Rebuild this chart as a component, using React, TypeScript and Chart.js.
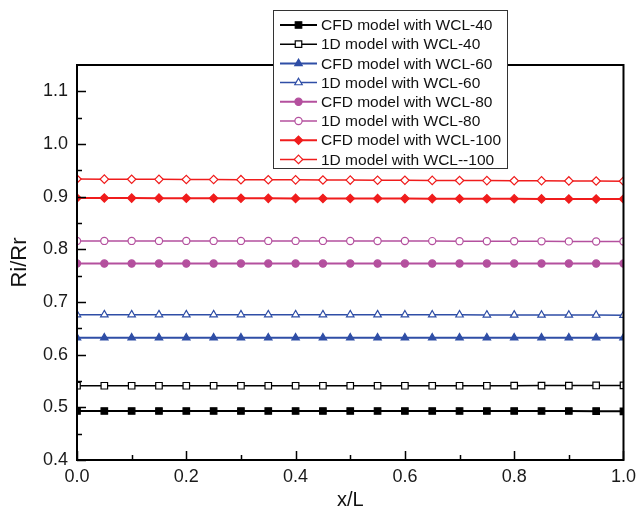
import React, { useEffect, useRef } from "react";
import { Chart, registerables } from "chart.js";
import { drawPoint } from "chart.js/helpers";

Chart.register(...registerables);

const xValues = [0, 0.05, 0.1, 0.15, 0.2, 0.25, 0.3, 0.35, 0.4, 0.45, 0.5, 0.55, 0.6, 0.65, 0.7, 0.75, 0.8, 0.85, 0.9, 0.95, 1.0];

const cfd40 = [0.493, 0.493, 0.493, 0.493, 0.493, 0.493, 0.493, 0.493, 0.493, 0.493, 0.493, 0.493, 0.493, 0.493, 0.493, 0.493, 0.493, 0.493, 0.493, 0.4928, 0.4925];
const oneD40 = [0.541, 0.541, 0.541, 0.541, 0.541, 0.541, 0.541, 0.541, 0.541, 0.541, 0.541, 0.541, 0.541, 0.541, 0.541, 0.541, 0.5412, 0.5413, 0.5414, 0.5415, 0.5416];
const cfd60 = [0.632, 0.632, 0.632, 0.632, 0.632, 0.632, 0.632, 0.632, 0.632, 0.632, 0.632, 0.632, 0.632, 0.632, 0.632, 0.632, 0.632, 0.632, 0.632, 0.632, 0.632];
const oneD60 = [0.676, 0.676, 0.676, 0.676, 0.676, 0.676, 0.676, 0.676, 0.676, 0.676, 0.676, 0.6759, 0.6758, 0.6757, 0.6756, 0.6755, 0.6754, 0.6753, 0.6752, 0.6751, 0.675];
const cfd80 = [0.773, 0.773, 0.773, 0.773, 0.773, 0.773, 0.773, 0.773, 0.773, 0.773, 0.773, 0.773, 0.773, 0.773, 0.773, 0.773, 0.773, 0.773, 0.773, 0.773, 0.773];
const oneD80 = [0.816, 0.816, 0.816, 0.816, 0.816, 0.816, 0.816, 0.816, 0.816, 0.816, 0.8159, 0.8158, 0.8157, 0.8156, 0.8155, 0.8154, 0.8153, 0.8152, 0.8151, 0.815, 0.815];
const cfd100 = [0.8975, 0.8974, 0.8973, 0.8972, 0.8971, 0.897, 0.8969, 0.8968, 0.8967, 0.8966, 0.8965, 0.8964, 0.8963, 0.8962, 0.8961, 0.896, 0.8959, 0.8958, 0.8957, 0.8956, 0.8955];
const oneD100 = [0.9335, 0.9333, 0.9331, 0.9329, 0.9327, 0.9325, 0.9323, 0.9321, 0.9319, 0.9317, 0.9315, 0.9313, 0.9311, 0.9309, 0.9307, 0.9305, 0.9303, 0.9301, 0.9299, 0.9297, 0.9295];

const seriesLabels = [
  "CFD model with WCL-40",
  "1D model with WCL-40",
  "CFD model with WCL-60",
  "1D model with WCL-60",
  "CFD model with WCL-80",
  "1D model with WCL-80",
  "CFD model with WCL-100",
  "1D model with WCL--100",
];

const yTickValues = [0.4, 0.5, 0.6, 0.7, 0.8, 0.9, 1.0, 1.1];
const yMinorValues = [0.45, 0.55, 0.65, 0.75, 0.85, 0.95, 1.05];
const xTickValues = [0, 0.2, 0.4, 0.6, 0.8, 1.0];
const xMinorValues = [0.1, 0.3, 0.5, 0.7, 0.9];

const FONT = "'Liberation Sans', Arial, Helvetica, sans-serif";
const BLACK = "#000000";
const BLUE = "#2f4ea6";
const MAGENTA = "#b4509e";
const RED = "#f01c1c";

const styleDefs = [
  { color: BLACK, style: "rect", radius: 4.6, hollow: false, width: 2 },
  { color: BLACK, style: "rect", radius: 4.6, hollow: true, width: 1.5 },
  { color: BLUE, style: "triangle", radius: 4.3, hollow: false, width: 2 },
  { color: BLUE, style: "triangle", radius: 4.3, hollow: true, width: 1.5 },
  { color: MAGENTA, style: "circle", radius: 3.6, hollow: false, width: 2 },
  { color: MAGENTA, style: "circle", radius: 3.6, hollow: true, width: 1.5 },
  { color: RED, style: "rectRot", radius: 4.2, hollow: false, width: 2 },
  { color: RED, style: "rectRot", radius: 4.2, hollow: true, width: 1.5 },
];

const seriesValues = [cfd40, oneD40, cfd60, oneD60, cfd80, oneD80, cfd100, oneD100];

const framePlugin = {
  id: "framePlugin",
  afterDatasetsDraw(chart: any) {
    const { ctx, chartArea } = chart;
    const xs = chart.scales.x;
    const ys = chart.scales.y;
    ctx.save();
    ctx.strokeStyle = BLACK;
    ctx.lineWidth = 1.5;
    ctx.beginPath();
    yTickValues.forEach((v) => {
      const p = Math.round(ys.getPixelForValue(v)) + 0.5;
      ctx.moveTo(chartArea.left, p);
      ctx.lineTo(chartArea.left + 9, p);
    });
    yMinorValues.forEach((v) => {
      const p = Math.round(ys.getPixelForValue(v)) + 0.5;
      ctx.moveTo(chartArea.left, p);
      ctx.lineTo(chartArea.left + 5, p);
    });
    xTickValues.forEach((v) => {
      const p = Math.round(xs.getPixelForValue(v)) + 0.5;
      ctx.moveTo(p, chartArea.bottom);
      ctx.lineTo(p, chartArea.bottom - 9);
    });
    xMinorValues.forEach((v) => {
      const p = Math.round(xs.getPixelForValue(v)) + 0.5;
      ctx.moveTo(p, chartArea.bottom);
      ctx.lineTo(p, chartArea.bottom - 5);
    });
    ctx.stroke();
    ctx.lineWidth = 2;
    ctx.strokeRect(chartArea.left, chartArea.top, chartArea.right - chartArea.left, chartArea.bottom - chartArea.top);
    ctx.restore();
  },
  afterDraw(chart: any) {
    const { ctx } = chart;
    const boxL = 273, boxT = 10, boxR = 507, boxB = 168;
    ctx.save();
    ctx.fillStyle = "#ffffff";
    ctx.fillRect(boxL, boxT, boxR - boxL, boxB - boxT);
    ctx.strokeStyle = "#333333";
    ctx.lineWidth = 1;
    ctx.strokeRect(boxL + 0.5, boxT + 0.5, boxR - boxL, boxB - boxT);
    ctx.font = `15.5px ${FONT}`;
    ctx.textBaseline = "middle";
    ctx.textAlign = "left";
    chart.data.datasets.forEach((ds: any, i: number) => {
      const y = 25 + i * 19.2;
      ctx.strokeStyle = ds.borderColor;
      ctx.lineWidth = ds.borderWidth;
      ctx.beginPath();
      ctx.moveTo(280, y);
      ctx.lineTo(317, y);
      ctx.stroke();
      ctx.fillStyle = ds.pointBackgroundColor;
      ctx.strokeStyle = ds.pointBorderColor;
      ctx.lineWidth = ds.pointBorderWidth;
      drawPoint(ctx, { pointStyle: ds.pointStyle, rotation: 0, radius: ds.pointRadius, borderWidth: ds.pointBorderWidth }, 298.5, y);
      ctx.fillStyle = "#111111";
      ctx.fillText(ds.label, 321, y + 1);
    });
    ctx.restore();
  },
};

export default function App() {
  const canvasRef = useRef<HTMLCanvasElement | null>(null);

  useEffect(() => {
    document.body.style.margin = "0";
    const canvas = canvasRef.current;
    if (!canvas) return;
    const datasets = seriesValues.map((vals, i) => {
      const s = styleDefs[i];
      return {
        label: seriesLabels[i],
        data: xValues.map((x, j) => ({ x, y: vals[j] })),
        borderColor: s.color,
        borderWidth: s.width,
        pointStyle: s.style,
        pointRadius: s.radius,
        pointBorderWidth: 1.2,
        pointBorderColor: s.color,
        pointBackgroundColor: s.hollow ? "#ffffff" : s.color,
        tension: 0,
        clip: 0,
        fill: false,
      };
    });
    const chart = new Chart(canvas, {
      type: "line",
      data: { datasets },
      options: {
        animation: false,
        responsive: false,
        devicePixelRatio: 1,
        layout: { padding: { left: 0, top: 65, right: 13, bottom: 0 } },
        plugins: { legend: { display: false }, tooltip: { enabled: false } },
        scales: {
          x: {
            type: "linear",
            min: 0,
            max: 1,
            afterFit: (scale: any) => { scale.height = 48; },
            afterBuildTicks: (scale: any) => { scale.ticks = xTickValues.map((v) => ({ value: v })); },
            grid: { display: false, drawTicks: false },
            border: { display: false },
            ticks: {
              padding: 6,
              color: "#1a1a1a",
              font: { family: FONT, size: 18 },
              maxRotation: 0,
              callback: (v: any) => Number(v).toFixed(1),
            },
            title: {
              display: true,
              text: "x/L",
              color: "#111111",
              font: { family: FONT, size: 20 },
              padding: { top: 0, bottom: -4 },
            },
          },
          y: {
            type: "linear",
            min: 0.4,
            max: 1.15,
            afterFit: (scale: any) => { scale.width = 77; },
            afterBuildTicks: (scale: any) => { scale.ticks = yTickValues.map((v) => ({ value: v })); },
            grid: { display: false, drawTicks: false },
            border: { display: false },
            ticks: {
              padding: 9,
              color: "#1a1a1a",
              font: { family: FONT, size: 18 },
              callback: (v: any) => Number(v).toFixed(1),
            },
            title: {
              display: true,
              text: "Ri/Rr",
              color: "#111111",
              font: { family: FONT, size: 22 },
              padding: { top: 7, bottom: 0 },
            },
          },
        },
      } as any,
      plugins: [framePlugin],
    });
    return () => chart.destroy();
  }, []);

  return (
    <div style={{ width: 642, height: 508 }}>
      <canvas ref={canvasRef} width={642} height={508} style={{ display: "block" }} />
    </div>
  );
}
